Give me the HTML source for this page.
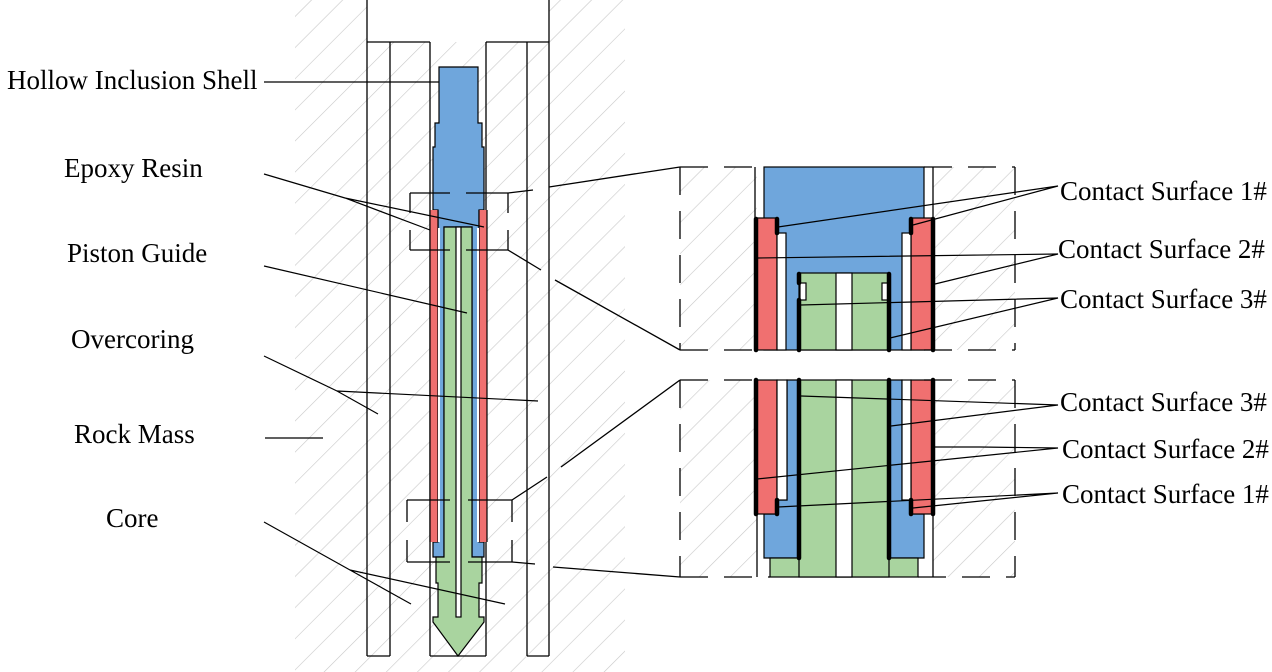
<!DOCTYPE html>
<html><head><meta charset="utf-8"><style>
html,body{margin:0;padding:0;background:#fff;}
svg{display:block;}
text{font-family:"Liberation Serif",serif;font-size:27px;fill:#000;}
</style></head><body>
<svg width="1272" height="672" viewBox="0 0 1272 672" xmlns="http://www.w3.org/2000/svg">
<defs>
<pattern id="h" patternUnits="userSpaceOnUse" width="22" height="22" patternTransform="rotate(45)">
<line x1="0" y1="0" x2="0" y2="22" stroke="#c8c8c8" stroke-width="1.2"/>
</pattern>
</defs>
<rect x="295" y="0" width="330" height="672" fill="url(#h)"/>
<rect x="367" y="0" width="182" height="42" fill="#fff"/>
<rect x="680" y="167" width="77" height="183" fill="url(#h)"/>
<rect x="933" y="167" width="82" height="183" fill="url(#h)"/>
<rect x="680" y="380" width="77" height="197" fill="url(#h)"/>
<rect x="933" y="380" width="82" height="197" fill="url(#h)"/>

<g stroke="#000" stroke-width="1.3" fill="none">
<line x1="367" y1="0" x2="367" y2="656"/>
<line x1="549" y1="0" x2="549" y2="656"/>
<line x1="367" y1="42" x2="430" y2="42"/>
<line x1="486" y1="42" x2="549" y2="42"/>
<line x1="390" y1="42" x2="390" y2="656"/>
<line x1="527" y1="42" x2="527" y2="656"/>
<line x1="430" y1="42" x2="430" y2="656"/>
<line x1="486" y1="42" x2="486" y2="656"/>
<line x1="367" y1="656" x2="390" y2="656"/>
<line x1="527" y1="656" x2="549" y2="656"/>
<line x1="430" y1="656" x2="486" y2="656"/>
</g>

<g stroke="#000" stroke-width="1.2">
<path d="M439 67 H478 V123 H482 V147 H484 V210 H479 V542 H484 V557 H472 V227 H444 V557 H433 V542 H438 V210 H433 V147 H435 V123 H439 Z" fill="#6fa6dc"/>
<rect x="430" y="210" width="8" height="332" fill="#f07070" stroke="none"/>
<rect x="479" y="210" width="8" height="332" fill="#f07070" stroke="none"/>
<line x1="430" y1="210" x2="430" y2="542"/><line x1="438" y1="210" x2="438" y2="542"/>
<line x1="479" y1="210" x2="479" y2="542"/><line x1="487" y1="210" x2="487" y2="542"/>
<rect x="438" y="228" width="2" height="314" fill="#fff" stroke="none"/>
<rect x="477" y="228" width="2" height="314" fill="#fff" stroke="none"/>
<path d="M444 227 H472 V557 H482 V583 H479 V617 H484 V622 L458 656 L433 622 V617 H438 V583 H436 V557 H444 Z" fill="#a9d49f"/>
<rect x="456" y="227" width="5" height="390" fill="#fff"/>
</g>

<g stroke="#000" stroke-width="1.3" fill="none">
<path d="M410 193 H450 M466 193 H508 M410 193 V213 M410 230 V250 M508 193 V213 M508 230 V250 M410 250 H450 M466 250 H508"/>
<path d="M407 500 H450 M468 500 H512 M407 500 V522 M407 540 V562 M512 500 V522 M512 540 V562 M407 562 H450 M468 562 H512"/>
<path d="M508 193 L533 190 M549 187 L680 167"/>
<path d="M508 250 L541 270 M555 280 L680 350"/>
<path d="M512 500 L547 477 M561 467 L680 380"/>
<path d="M512 562 L535 564 M553 567 L680 577"/>
</g>

<g stroke="#000" stroke-width="1.2">
<rect x="764" y="167" width="160" height="183" fill="#6fa6dc"/>
<rect x="756" y="218" width="21" height="132" fill="#f07070"/>
<rect x="911" y="218" width="22" height="132" fill="#f07070"/>
<rect x="777" y="233" width="9" height="117" fill="#fff"/>
<rect x="902" y="233" width="9" height="117" fill="#fff"/>
<rect x="799" y="273" width="90" height="77" fill="#a9d49f"/>
<rect x="836" y="273" width="16" height="77" fill="#fff"/>
<rect x="800" y="283" width="6" height="17" fill="#fff"/>
<rect x="882" y="283" width="6" height="17" fill="#fff"/>
<path d="M777 500 H787 V380 H799 V558 H764 V514 H777 Z" fill="#6fa6dc"/>
<path d="M911 500 H902 V380 H889 V558 H924 V514 H911 Z" fill="#6fa6dc"/>
<rect x="756" y="380" width="21" height="134" fill="#f07070"/>
<rect x="911" y="380" width="22" height="134" fill="#f07070"/>
<rect x="777" y="380" width="10" height="120" fill="#fff"/>
<rect x="902" y="380" width="9" height="120" fill="#fff"/>
<rect x="770" y="558" width="148" height="19" fill="#a9d49f"/>
<rect x="799" y="380" width="90" height="197" fill="#a9d49f"/>
<rect x="836" y="380" width="16" height="197" fill="#fff"/>
</g>
<g stroke="#000" stroke-width="1.3" fill="none" stroke-dasharray="28,16">
<path d="M680 167 H764 M924 167 H1015"/>
<path d="M680 350 H764 M924 350 H1015"/>
<path d="M680 380 H764 M924 380 H1015"/>
<path d="M680 577 H770 M918 577 H1015"/>
<path d="M680 167 V350 M1015 167 V350 M680 380 V577 M1015 380 V577"/>
</g>
<g stroke="#000" stroke-width="1.3">
<line x1="755" y1="167" x2="755" y2="218"/><line x1="933" y1="167" x2="933" y2="218"/>
<line x1="933" y1="514" x2="933" y2="577"/><line x1="757" y1="514" x2="757" y2="577"/>
</g>
<g stroke="#000" stroke-width="4.5" stroke-linecap="round">
<line x1="756" y1="219" x2="756" y2="350"/><line x1="933" y1="219" x2="933" y2="350"/>
<line x1="777" y1="219" x2="777" y2="233"/><line x1="911" y1="219" x2="911" y2="233"/>
<line x1="799" y1="274" x2="799" y2="283"/><line x1="799" y1="300" x2="799" y2="350"/>
<line x1="889" y1="274" x2="889" y2="350"/>
<line x1="756" y1="380" x2="756" y2="514"/><line x1="933" y1="380" x2="933" y2="514"/>
<line x1="777" y1="500" x2="777" y2="514"/><line x1="911" y1="500" x2="911" y2="514"/>
<line x1="799" y1="380" x2="799" y2="558"/><line x1="889" y1="380" x2="889" y2="558"/>
</g>

<g stroke="#000" stroke-width="1.2" fill="none">
<path d="M264 82 H439"/>
<path d="M264 174 L345 198 L430 230 M345 198 L484 227"/>
<path d="M264 266 L467 313"/>
<path d="M264 356 L337 391 L378 414 M337 391 L538 401"/>
<path d="M265 438 H323"/>
<path d="M264 522 L350 570 L411 604 M350 570 L505 604"/>
<path d="M778 227 L1058 186 L913 225"/>
<path d="M757 258 L1058 254 L935 284"/>
<path d="M801 305 L1058 298 L890 338"/>
<path d="M801 396 L1058 405 L891 426"/>
<path d="M935 447 H980 L1058 448 L757 479"/>
<path d="M778 507 L1058 493 L913 508"/>
</g>

<text x="7" y="89">Hollow Inclusion Shell</text>
<text x="64" y="177">Epoxy Resin</text>
<text x="67" y="262">Piston Guide</text>
<text x="71" y="348">Overcoring</text>
<text x="74" y="443">Rock Mass</text>
<text x="106" y="527">Core</text>
<text x="1060" y="200">Contact Surface 1#</text>
<text x="1058" y="258">Contact Surface 2#</text>
<text x="1060" y="308">Contact Surface 3#</text>
<text x="1060" y="411">Contact Surface 3#</text>
<text x="1062" y="458">Contact Surface 2#</text>
<text x="1062" y="503">Contact Surface 1#</text>
</svg>
</body></html>
